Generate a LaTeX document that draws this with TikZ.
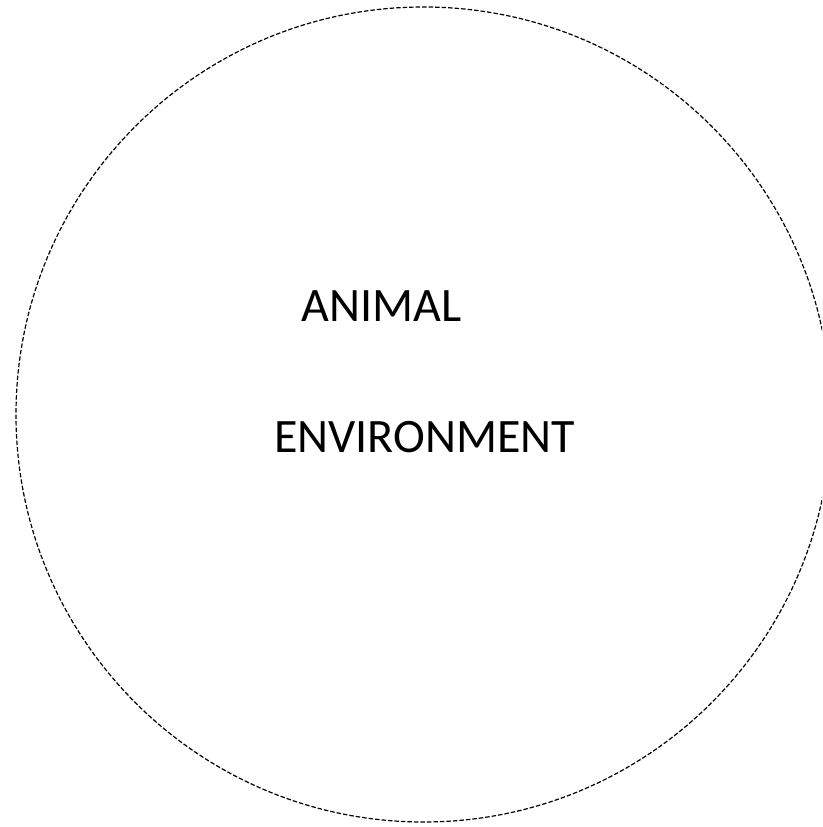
\documentclass[tikz,border=0pt]{standalone}
\usepackage{fontspec}
\setmainfont{Carlito}
\usepackage{tikz}

\begin{document}
\begin{tikzpicture}[x=1pt, y=1pt,
    boundary/.style={black, line width=1.2pt, dash pattern=on 4.5pt off 2pt},
    word/.style={anchor=base, inner sep=0pt, font=\fontsize{48}{58}\selectfont}]
\useasboundingbox (0,0) rectangle (822,827);
\clip (0,0) rectangle (822,827);
\coordinate (O) at (423.5,412.5);
\draw[boundary] (O) circle (407.5);
\node[word] (animal) at (381.5,505) {ANIMAL};
\node[word] (env) at (424.5,374) {ENVIRONMENT};
\end{tikzpicture}
\end{document}
